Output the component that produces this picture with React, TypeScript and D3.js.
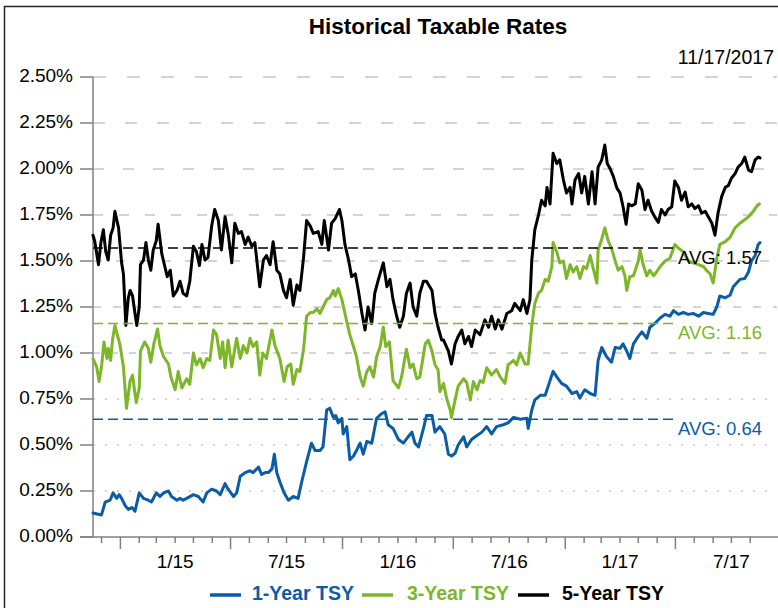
import React from 'react';
import * as d3 from 'd3';

// ---------- DATA ----------
const startDate = new Date(2014, 10, 17);
const endDate = new Date(2017, 10, 17);
const asOfLabel = '11/17/2017';
const chartTitle = 'Historical Taxable Rates';

const seriesNames = ['1-Year TSY', '3-Year TSY', '5-Year TSY'];
const seriesColors = ['#0b5ca6', '#7db628', '#000000'];
const averages = [0.64, 1.16, 1.57];

const yTicks = [0, 0.25, 0.5, 0.75, 1.0, 1.25, 1.5, 1.75, 2.0, 2.25, 2.5];
const majorTickDates = [
  new Date(2015, 0, 1), new Date(2015, 6, 1), new Date(2016, 0, 1),
  new Date(2016, 6, 1), new Date(2017, 0, 1), new Date(2017, 6, 1),
];
const majorTickLabels = ['1/15', '7/15', '1/16', '7/16', '1/17', '7/17'];

// [days since 11/17/2014, rate %]
const oneYear: [number, number][] = [[0,0.13],[14,0.12],[20,0.19],[28,0.20],[33,0.24],[39,0.21],[43,0.23],[47,0.21],[53,0.17],[58,0.15],[64,0.16],[69,0.14],[76,0.24],[83,0.21],[91,0.20],[96,0.19],[104,0.24],[110,0.22],[116,0.24],[124,0.25],[129,0.22],[138,0.20],[143,0.21],[148,0.20],[154,0.21],[165,0.23],[173,0.22],[181,0.19],[187,0.24],[195,0.26],[203,0.25],[209,0.23],[217,0.29],[222,0.26],[231,0.22],[236,0.24],[242,0.33],[250,0.35],[258,0.36],[263,0.35],[272,0.38],[277,0.34],[283,0.35],[288,0.35],[294,0.37],[298,0.45],[302,0.35],[307,0.30],[314,0.24],[321,0.20],[329,0.22],[337,0.21],[343,0.30],[351,0.41],[359,0.51],[365,0.47],[373,0.47],[378,0.49],[384,0.69],[389,0.70],[395,0.65],[399,0.66],[403,0.62],[409,0.645],[411,0.56],[417,0.60],[422,0.42],[428,0.44],[433,0.47],[439,0.51],[444,0.45],[450,0.52],[458,0.51],[466,0.645],[474,0.67],[480,0.68],[485,0.61],[493,0.59],[502,0.53],[510,0.51],[518,0.545],[524,0.57],[529,0.51],[535,0.49],[543,0.59],[548,0.66],[557,0.66],[562,0.57],[570,0.60],[578,0.56],[584,0.45],[589,0.44],[595,0.455],[600,0.50],[609,0.545],[614,0.49],[622,0.53],[628,0.545],[639,0.57],[647,0.60],[655,0.56],[663,0.60],[674,0.61],[682,0.62],[691,0.65],[702,0.64],[713,0.645],[715,0.59],[721,0.69],[726,0.745],[735,0.77],[743,0.77],[748,0.82],[756,0.90],[762,0.87],[770,0.835],[778,0.82],[787,0.78],[795,0.79],[800,0.755],[808,0.80],[817,0.78],[825,0.77],[830,0.96],[836,1.03],[844,0.98],[852,0.95],[858,1.03],[866,1.025],[871,1.05],[877,1.01],[882,0.97],[888,1.05],[896,1.09],[902,1.115],[910,1.08],[915,1.14],[923,1.16],[932,1.19],[940,1.21],[948,1.20],[954,1.23],[962,1.21],[970,1.22],[978,1.21],[986,1.215],[995,1.20],[1003,1.22],[1011,1.215],[1019,1.21],[1025,1.25],[1030,1.31],[1039,1.30],[1047,1.315],[1052,1.36],[1063,1.40],[1071,1.405],[1077,1.44],[1082,1.50],[1088,1.53],[1093,1.59],[1096,1.60]];

const threeYear: [number, number][] = [[0,0.97],[6,0.925],[10,0.845],[14,0.925],[18,1.06],[23,0.97],[25,1.025],[29,0.96],[32,1.07],[36,1.15],[39,1.11],[44,1.05],[50,0.925],[55,0.70],[61,0.85],[65,0.88],[71,0.73],[76,0.81],[78,1.01],[85,1.06],[91,1.025],[95,0.95],[100,1.05],[106,1.13],[110,1.04],[116,0.98],[124,0.94],[128,0.87],[135,0.80],[140,0.90],[146,0.81],[154,0.86],[159,0.83],[165,1.00],[170,0.935],[176,0.97],[181,0.92],[187,0.97],[192,0.96],[198,1.125],[203,1.10],[209,0.97],[213,1.06],[217,0.92],[222,1.07],[228,0.925],[236,1.08],[242,0.97],[247,1.04],[253,1.00],[258,1.08],[263,1.035],[269,1.06],[274,0.88],[279,1.00],[285,0.97],[294,1.125],[299,1.04],[307,0.97],[314,0.845],[319,0.925],[325,0.94],[329,0.83],[335,0.91],[340,0.90],[346,1.02],[351,1.20],[357,1.22],[362,1.22],[368,1.24],[373,1.215],[378,1.25],[384,1.29],[389,1.30],[395,1.34],[398,1.31],[403,1.35],[409,1.29],[417,1.17],[422,1.10],[428,1.035],[433,0.98],[439,0.87],[444,0.82],[450,0.90],[455,0.925],[461,0.87],[466,0.98],[472,1.035],[477,1.14],[481,1.035],[487,1.06],[493,0.85],[502,0.81],[507,0.87],[515,1.02],[521,0.92],[526,0.94],[532,0.86],[537,0.87],[546,1.05],[551,1.07],[557,1.01],[562,0.935],[567,0.91],[570,0.79],[576,0.835],[581,0.755],[587,0.69],[589,0.65],[595,0.745],[600,0.82],[609,0.86],[614,0.84],[620,0.745],[625,0.845],[631,0.80],[636,0.85],[641,0.84],[647,0.92],[655,0.88],[663,0.91],[669,0.87],[677,0.835],[682,0.935],[691,0.96],[696,0.935],[702,1.00],[710,0.94],[715,0.94],[721,1.15],[726,1.27],[732,1.325],[737,1.34],[743,1.40],[748,1.39],[754,1.47],[756,1.60],[762,1.55],[767,1.49],[773,1.50],[778,1.405],[784,1.48],[789,1.44],[795,1.47],[800,1.405],[806,1.47],[811,1.46],[817,1.53],[822,1.46],[828,1.38],[830,1.56],[836,1.62],[841,1.68],[847,1.605],[852,1.57],[858,1.50],[863,1.45],[869,1.47],[874,1.42],[877,1.34],[882,1.415],[888,1.42],[896,1.50],[899,1.56],[904,1.48],[910,1.42],[915,1.45],[921,1.42],[926,1.44],[932,1.47],[940,1.50],[948,1.515],[956,1.59],[962,1.57],[970,1.55],[978,1.50],[986,1.49],[995,1.48],[1003,1.47],[1008,1.45],[1014,1.43],[1019,1.38],[1025,1.515],[1030,1.59],[1039,1.605],[1047,1.63],[1055,1.68],[1063,1.705],[1069,1.72],[1077,1.74],[1085,1.77],[1091,1.80],[1095,1.81]];

const fiveYear: [number, number][] = [[0,1.64],[3,1.605],[9,1.48],[13,1.60],[17,1.67],[21,1.55],[25,1.505],[29,1.64],[33,1.68],[36,1.77],[42,1.68],[47,1.49],[50,1.43],[54,1.15],[58,1.30],[61,1.34],[65,1.31],[69,1.215],[72,1.15],[76,1.25],[78,1.48],[83,1.505],[87,1.60],[91,1.505],[95,1.45],[99,1.56],[104,1.61],[107,1.70],[113,1.54],[118,1.47],[122,1.415],[127,1.45],[132,1.31],[138,1.34],[143,1.39],[148,1.325],[154,1.31],[159,1.39],[165,1.58],[170,1.55],[175,1.475],[179,1.59],[184,1.505],[189,1.52],[195,1.69],[200,1.78],[206,1.72],[211,1.56],[217,1.74],[222,1.65],[228,1.49],[233,1.705],[239,1.65],[244,1.66],[250,1.59],[255,1.63],[261,1.58],[266,1.60],[274,1.36],[280,1.505],[285,1.53],[291,1.48],[296,1.605],[302,1.45],[307,1.43],[313,1.34],[318,1.30],[324,1.40],[329,1.26],[335,1.37],[340,1.34],[346,1.52],[351,1.72],[357,1.69],[362,1.65],[370,1.66],[376,1.59],[380,1.72],[387,1.56],[392,1.705],[398,1.73],[405,1.78],[409,1.72],[414,1.59],[420,1.505],[425,1.415],[431,1.43],[436,1.34],[442,1.215],[447,1.125],[452,1.25],[458,1.16],[463,1.325],[469,1.40],[477,1.49],[483,1.36],[488,1.40],[493,1.29],[499,1.20],[504,1.14],[510,1.20],[515,1.325],[521,1.38],[526,1.25],[532,1.20],[537,1.325],[543,1.39],[548,1.39],[557,1.34],[562,1.215],[567,1.14],[573,1.07],[576,1.07],[584,1.01],[589,0.94],[595,1.05],[600,1.09],[606,1.125],[611,1.05],[617,1.09],[622,1.035],[628,1.125],[636,1.10],[644,1.18],[650,1.14],[655,1.20],[661,1.13],[666,1.18],[672,1.13],[680,1.215],[688,1.23],[693,1.27],[702,1.23],[707,1.29],[713,1.215],[718,1.29],[721,1.505],[726,1.67],[732,1.75],[737,1.83],[743,1.80],[746,1.90],[751,1.81],[756,2.085],[762,2.03],[767,2.05],[773,1.94],[778,1.87],[784,1.90],[787,1.81],[792,1.94],[798,1.975],[803,1.87],[808,1.96],[814,1.81],[820,1.985],[825,1.81],[830,2.01],[836,2.05],[841,2.13],[845,2.03],[850,2.00],[855,1.96],[861,1.895],[866,1.87],[871,1.795],[876,1.70],[880,1.81],[885,1.80],[891,1.81],[896,1.92],[902,1.885],[907,1.78],[912,1.83],[918,1.77],[923,1.74],[929,1.71],[934,1.78],[940,1.75],[945,1.78],[951,1.795],[956,1.935],[962,1.90],[967,1.83],[973,1.875],[978,1.795],[984,1.81],[989,1.785],[995,1.80],[1000,1.76],[1006,1.77],[1011,1.74],[1017,1.705],[1022,1.64],[1027,1.76],[1033,1.85],[1039,1.90],[1044,1.91],[1049,1.95],[1055,1.975],[1060,2.01],[1066,2.03],[1071,2.065],[1077,1.995],[1082,1.985],[1088,2.05],[1093,2.065],[1096,2.06]];

const allSeries = [oneYear, threeYear, fiveYear];

// ---------- STYLE / LAYOUT ----------
const FONT = '"Liberation Sans", Arial, Helvetica, sans-serif';
// grid dash patterns from 0.25% up to 2.50%
const gridDashes = ['2,10', '2,10', '2,10', '7,11', '8,12', '9,14', '10,16', '11,19', '12,20', '13,21'];

export default function App() {
  const W = 778, H = 608;
  const plotLeft = 93, plotRight = 760, plotTop = 77, plotBottom = 537;
  const gridRight = 777;
  const avgLineEnd = 673;

  const x = d3.scaleTime().domain([startDate, endDate]).range([plotLeft, plotRight]);
  const y = d3.scaleLinear().domain([0, 2.5]).range([plotBottom, plotTop]);
  const toDate = (d: number) => d3.timeDay.offset(startDate, d);
  const line = d3.line<[number, number]>()
    .x(p => x(toDate(p[0])))
    .y(p => y(p[1]))
    .curve(d3.curveLinear);

  const monthTicks = d3.timeMonth.range(d3.timeMonth.ceil(startDate), endDate);
  const isMajor = (d: Date) => majorTickDates.some(m => m.getTime() === d.getTime());
  const fmtY = (v: number) => d3.format('.2f')(v) + '%';

  const legendItems = [
    { lx: 210, tx: 252 },
    { lx: 362, tx: 407 },
    { lx: 518, tx: 562 },
  ];

  return (
    <svg width={W} height={H} style={{ position: 'absolute', left: 0, top: 0, background: '#fff' }}
      fontFamily={FONT}>
      <rect x={0} y={0} width={W} height={H} fill="#fff" />
      <rect x={4.5} y={6.5} width={900} height={800} fill="none" stroke="#222" strokeWidth={1.5} />

      {/* title */}
      <text x={438} y={34} textAnchor="middle" fontSize={22.5} fontWeight="bold" fill="#000">{chartTitle}</text>
      <text x={774} y={64} textAnchor="end" fontSize={19.5} fill="#000">{asOfLabel}</text>

      {/* gridlines */}
      {yTicks.filter(v => v > 0).map((v, i) => (
        <line key={'g' + v} x1={plotLeft} x2={gridRight} y1={y(v)} y2={y(v)}
          stroke="#c8c8c8" strokeWidth={1.5} strokeDasharray={gridDashes[i]} />
      ))}

      {/* y axis */}
      <line x1={plotLeft} x2={plotLeft} y1={plotTop} y2={plotBottom} stroke="#808080" strokeWidth={1.5} />
      {yTicks.map(v => (
        <g key={'yt' + v}>
          <line x1={80} x2={plotLeft} y1={y(v)} y2={y(v)} stroke="#808080" strokeWidth={1.5} />
          <text x={73} y={y(v) + 4.5} textAnchor="end" fontSize={19} fill="#000">{fmtY(v)}</text>
        </g>
      ))}

      {/* x axis */}
      <line x1={80} x2={W} y1={plotBottom} y2={plotBottom} stroke="#808080" strokeWidth={1.5} />
      {monthTicks.map(d => (
        <line key={'xt' + d.getTime()} x1={x(d)} x2={x(d)} y1={plotBottom}
          y2={plotBottom + (isMajor(d) ? 12 : 6)} stroke="#808080" strokeWidth={1.5} />
      ))}
      {majorTickDates.map((d, i) => (
        <text key={'xl' + i} x={x(d3.timeMonth.offset(d, 3))} y={568} textAnchor="middle"
          fontSize={19} fill="#000">{majorTickLabels[i]}</text>
      ))}

      {/* series */}
      {allSeries.map((s, i) => (
        <path key={'s' + i} d={line(s) || ''} fill="none" stroke={seriesColors[i]}
          strokeWidth={3} strokeLinejoin="round" strokeLinecap="round" />
      ))}

      {/* averages */}
      {averages.map((a, i) => (
        <g key={'a' + i}>
          <line x1={plotLeft} x2={avgLineEnd} y1={y(a)} y2={y(a)} stroke={seriesColors[i]}
            strokeWidth={1.5} strokeDasharray="10,5" />
          <text x={762} y={y(a) + 15.5} textAnchor="end" fontSize={18.5} fill={seriesColors[i]}>
            {'AVG: ' + d3.format('.2f')(a)}
          </text>
        </g>
      ))}

      {/* legend */}
      {seriesNames.map((n, i) => (
        <g key={'l' + i}>
          <line x1={legendItems[i].lx} x2={legendItems[i].lx + 31} y1={595} y2={595}
            stroke={seriesColors[i]} strokeWidth={3.5} />
          <text x={legendItems[i].tx} y={600} fontSize={19.5} fontWeight="bold" fill={seriesColors[i]}>{n}</text>
        </g>
      ))}
    </svg>
  );
}
